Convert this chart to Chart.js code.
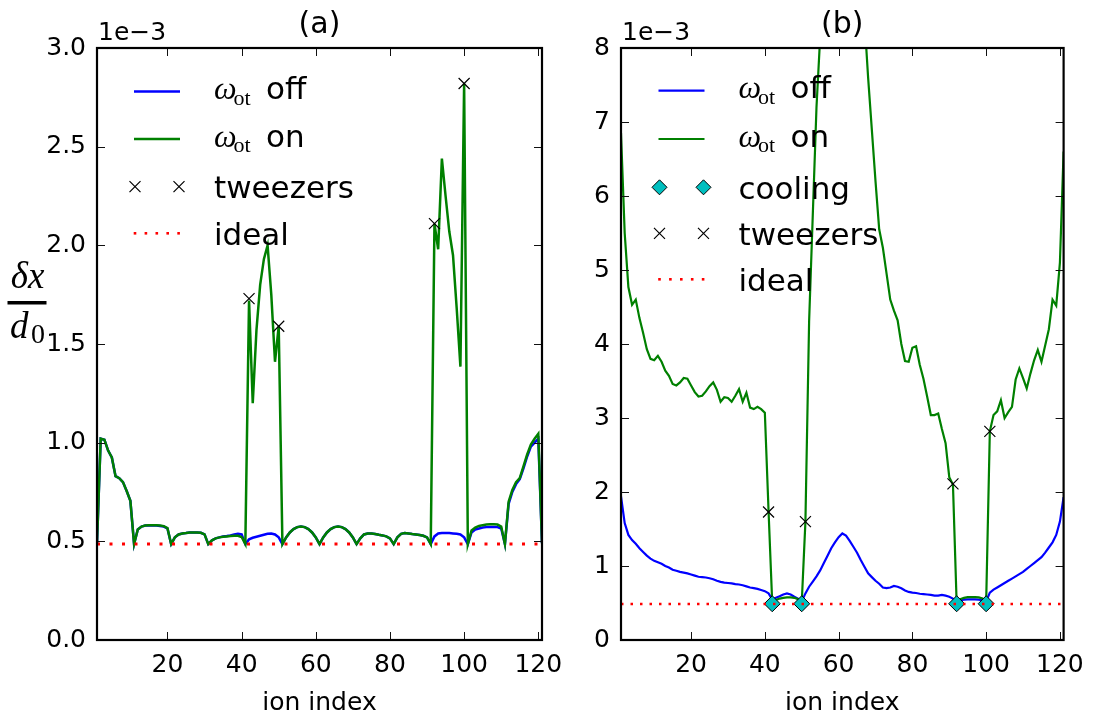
<!DOCTYPE html>
<html>
<head>
<meta charset="utf-8">
<title>ion displacement</title>
<script src="https://cdn.jsdelivr.net/npm/chart.js@4.4.0/dist/chart.umd.min.js"></script>
<style>
  html, body { margin: 0; padding: 0; background: #fff; }
  body { width: 1094px; height: 714px; position: relative; overflow: hidden; }
  canvas { position: absolute; top: 0; }
  #chartA { left: 0; }
  #chartB { left: 570px; }
</style>
</head>
<body>
<canvas id="chartA" width="590" height="714"></canvas>
<canvas id="chartB" width="524" height="714"></canvas>
<script>
// ion positions along the chain
const ionIndex = Array.from({ length: 121 }, (_, i) => i + 1);

// panel (a), values in units of 1e-3
const offA = [0.49, 1.02, 1.015, 0.96, 0.925, 0.83, 0.82, 0.8, 0.755, 0.705,
  0.486, 0.56, 0.575, 0.58, 0.58, 0.58, 0.58, 0.578, 0.575, 0.565,
  0.486, 0.52, 0.535, 0.54, 0.542, 0.545, 0.545, 0.545, 0.543, 0.535,
  0.486, 0.505, 0.515, 0.52, 0.525, 0.527, 0.53, 0.535, 0.538, 0.535,
  0.486, 0.51, 0.518, 0.523, 0.528, 0.533, 0.538, 0.54, 0.535, 0.52,
  0.486, 0.52, 0.545, 0.562, 0.572, 0.575, 0.572, 0.562, 0.545, 0.52,
  0.486, 0.52, 0.545, 0.562, 0.572, 0.575, 0.572, 0.562, 0.545, 0.52,
  0.486, 0.515, 0.535, 0.54, 0.54, 0.537, 0.533, 0.53, 0.525, 0.515,
  0.486, 0.52, 0.538, 0.542, 0.54, 0.537, 0.535, 0.532, 0.528, 0.52,
  0.486, 0.525, 0.54, 0.542, 0.542, 0.542, 0.54, 0.538, 0.535, 0.52,
  0.486, 0.545, 0.56, 0.565, 0.57, 0.572, 0.573, 0.573, 0.572, 0.565,
  0.486, 0.69, 0.75, 0.79, 0.815, 0.87, 0.93, 0.98, 1.0, 1.02,
  0.49];
const onA = [0.49, 1.02, 1.015, 0.96, 0.925, 0.83, 0.82, 0.8, 0.755, 0.705,
  0.486, 0.56, 0.575, 0.58, 0.582, 0.582, 0.582, 0.58, 0.577, 0.567,
  0.486, 0.52, 0.535, 0.54, 0.542, 0.545, 0.545, 0.545, 0.543, 0.535,
  0.486, 0.505, 0.515, 0.52, 0.523, 0.525, 0.527, 0.528, 0.528, 0.522,
  0.486, 1.72, 1.2, 1.57, 1.8, 1.93, 2.0, 1.75, 1.41, 1.59,
  0.486, 0.52, 0.545, 0.562, 0.572, 0.575, 0.572, 0.562, 0.545, 0.52,
  0.486, 0.52, 0.545, 0.562, 0.572, 0.575, 0.572, 0.562, 0.545, 0.52,
  0.486, 0.515, 0.535, 0.54, 0.54, 0.537, 0.533, 0.53, 0.525, 0.515,
  0.486, 0.52, 0.538, 0.542, 0.54, 0.537, 0.535, 0.532, 0.528, 0.52,
  0.486, 2.11, 1.98, 2.44, 2.25, 2.07, 1.95, 1.68, 1.385, 2.82,
  0.486, 0.555, 0.57, 0.578, 0.582, 0.585, 0.586, 0.586, 0.585, 0.575,
  0.486, 0.7, 0.76, 0.8, 0.82, 0.88, 0.94, 0.99, 1.02, 1.045,
  0.49];
const tweezIonsA = [42, 50, 92, 100];
const tweezValsA = [1.73, 1.59, 2.11, 2.82];

// panel (b)
const offB = [1.94, 1.58, 1.42, 1.35, 1.3, 1.24, 1.19, 1.14, 1.1, 1.07,
  1.05, 1.03, 1.0, 0.98, 0.95, 0.935, 0.92, 0.91, 0.9, 0.885,
  0.87, 0.855, 0.85, 0.845, 0.835, 0.82, 0.8, 0.785, 0.775, 0.77,
  0.765, 0.755, 0.75, 0.74, 0.725, 0.71, 0.7, 0.69, 0.675, 0.66,
  0.63, 0.55, 0.57, 0.59, 0.615, 0.63, 0.615, 0.585, 0.56, 0.52,
  0.63, 0.72, 0.79, 0.86, 0.94, 1.04, 1.14, 1.24, 1.32, 1.39,
  1.44, 1.41, 1.34, 1.26, 1.18, 1.08, 0.99, 0.9, 0.85, 0.8,
  0.76, 0.71, 0.7, 0.71, 0.73, 0.72, 0.7, 0.67, 0.65, 0.64,
  0.635, 0.625, 0.62, 0.615, 0.61, 0.6, 0.6, 0.61, 0.6, 0.585,
  0.56, 0.52, 0.54, 0.545, 0.55, 0.55, 0.55, 0.545, 0.54, 0.52,
  0.64, 0.68, 0.71, 0.74, 0.77, 0.8, 0.83, 0.86, 0.89, 0.92,
  0.96, 1.0, 1.04, 1.08, 1.12, 1.18, 1.25, 1.32, 1.42, 1.6,
  1.93];
const onB = [6.85, 5.5, 4.77, 4.53, 4.6, 4.35, 4.15, 3.93, 3.8, 3.78,
  3.84, 3.76, 3.64, 3.57, 3.46, 3.44, 3.48, 3.54, 3.53, 3.44,
  3.35, 3.29, 3.3, 3.36, 3.43, 3.48, 3.38, 3.22, 3.28, 3.27,
  3.22, 3.3, 3.39, 3.22, 3.34, 3.14, 3.12, 3.15, 3.12, 3.07,
  1.75, 0.5, 0.54, 0.56, 0.57, 0.575, 0.575, 0.57, 0.55, 0.5,
  1.6, 4.3, 5.75, 7.2, 8.15, 9.5, 11.0, 12.2, 13.0, 13.4,
  13.5, 13.1, 12.3, 11.3, 10.2, 9.2, 8.4, 7.6, 6.9, 6.2,
  5.55, 5.3, 4.95, 4.6, 4.45, 4.32, 4.0, 3.77, 3.76, 3.95,
  3.97, 3.72, 3.53, 3.29, 3.04, 3.04, 3.06, 2.85, 2.66, 2.2,
  2.1, 0.5, 0.55, 0.57, 0.58, 0.58, 0.58, 0.575, 0.56, 0.5,
  2.82, 3.04, 3.09, 3.24, 3.0, 3.08, 3.15, 3.52, 3.67, 3.54,
  3.4, 3.6, 3.78, 3.92, 3.76, 3.98, 4.2, 4.6, 4.52, 5.1,
  6.6];
const coolIonsB = [42, 50, 92, 100];
const coolValsB = [0.49, 0.49, 0.49, 0.49];
const tweezIonsB = [41, 51, 91, 101];
const tweezValsB = [1.73, 1.6, 2.11, 2.82];

const idealVal = 0.486;

// ticks
const xTickValues = [20, 40, 60, 80, 100, 120];
const yTicksA = [0, 0.5, 1.0, 1.5, 2.0, 2.5, 3.0];
const yLabelsA = ['0.0', '0.5', '1.0', '1.5', '2.0', '2.5', '3.0'];
const yTicksB = [0, 1, 2, 3, 4, 5, 6, 7, 8];
const yLabelsB = ['0', '1', '2', '3', '4', '5', '6', '7', '8'];

const SANS = "'DejaVu Sans', sans-serif";
const SERIF = "'Liberation Serif', 'DejaVu Serif', serif";
const BLUE = '#0000ff', GREEN = '#008000', RED = '#ff0000', CYAN = '#00bfbf';

function pts(xs, ys) {
  return xs.map((x, i) => ({ x: x, y: ys[i] }));
}

// frame, inward ticks, titles, legend, y label
const decorPlugin = {
  id: 'decor',
  afterDraw(chart, args, o) {
    const ctx = chart.ctx;
    const a = chart.chartArea;
    const xs = chart.scales.x, ys = chart.scales.y;
    ctx.save();

    ctx.strokeStyle = '#111';
    ctx.lineWidth = 1;
    ctx.beginPath();
    xs.ticks.forEach(t => {
      const p = Math.round(xs.getPixelForValue(t.value)) + 0.5;
      ctx.moveTo(p, a.bottom); ctx.lineTo(p, a.bottom - 8);
      ctx.moveTo(p, a.top); ctx.lineTo(p, a.top + 8);
    });
    ys.ticks.forEach(t => {
      const p = Math.round(ys.getPixelForValue(t.value)) + 0.5;
      ctx.moveTo(a.left, p); ctx.lineTo(a.left + 8, p);
      ctx.moveTo(a.right, p); ctx.lineTo(a.right - 8, p);
    });
    ctx.stroke();

    ctx.strokeStyle = '#000';
    ctx.lineWidth = 2.2;
    ctx.strokeRect(a.left, a.top, a.right - a.left, a.bottom - a.top);

    ctx.fillStyle = '#000';
    ctx.textBaseline = 'alphabetic';
    ctx.textAlign = 'center';
    ctx.font = '30px ' + SANS;
    ctx.fillText(o.title, (a.left + a.right) / 2, 33);
    ctx.textAlign = 'left';
    ctx.font = '25px ' + SANS;
    ctx.fillText('1e\u22123', a.left + 1, 40);

    // legend
    const L = o.legend;
    const x0 = a.left + L.dx, x1 = x0 + 46;
    L.rows.forEach((e, i) => {
      const y = L.rowY[i];
      ctx.save();
      if (e.kind === 'line') {
        ctx.strokeStyle = e.color; ctx.lineWidth = L.lw;
        ctx.beginPath(); ctx.moveTo(x0, y); ctx.lineTo(x1, y); ctx.stroke();
      } else if (e.kind === 'dots') {
        ctx.fillStyle = e.color;
        for (let k = 0; k < 5; k++) ctx.fillRect(x0 + 1 + k * 10.9 - 1.3, y - 1.3, 2.6, 2.6);
      } else if (e.kind === 'cross') {
        ctx.strokeStyle = '#000'; ctx.lineWidth = 1.2;
        ctx.beginPath();
        [x0 + 1, x1 - 1].forEach(cx => {
          ctx.moveTo(cx - 5.5, y - 5.5); ctx.lineTo(cx + 5.5, y + 5.5);
          ctx.moveTo(cx - 5.5, y + 5.5); ctx.lineTo(cx + 5.5, y - 5.5);
        });
        ctx.stroke();
      } else if (e.kind === 'diamond') {
        ctx.fillStyle = CYAN; ctx.strokeStyle = '#000'; ctx.lineWidth = 1;
        [x0 + 1, x1 - 1].forEach(cx => {
          ctx.beginPath();
          ctx.moveTo(cx, y - 7.5); ctx.lineTo(cx + 7.5, y); ctx.lineTo(cx, y + 7.5); ctx.lineTo(cx - 7.5, y);
          ctx.closePath(); ctx.fill(); ctx.stroke();
        });
      }
      ctx.restore();

      const tx = x0 + 80;
      ctx.fillStyle = '#000';
      ctx.textAlign = 'left';
      if (e.word) {
        const base = y + 7.6;
        ctx.font = 'italic 32px ' + SERIF;
        ctx.fillText('\u03c9', tx, base);
        ctx.font = '22px ' + SERIF;
        ctx.fillText('ot', tx + 19.5, base + 5.5);
        ctx.font = '31px ' + SANS;
        ctx.fillText(e.word, tx + 52, base);
      } else {
        ctx.font = '31px ' + SANS;
        ctx.fillText(e.text, tx, y + 11.6);
      }
    });

    // y axis label, a fraction
    if (o.ylabel) {
      ctx.fillStyle = '#000';
      ctx.textAlign = 'center';
      ctx.font = 'italic 37px ' + SERIF;
      ctx.fillText('\u03b4x', 27.5, 287.5);
      ctx.fillRect(7.5, 301, 39, 3.5);
      ctx.textAlign = 'left';
      ctx.fillText('d', 10, 338);
      ctx.font = '28px ' + SERIF;
      ctx.fillText('0', 31, 343);
    }
    ctx.restore();
  }
};

function lineSet(label, ys, color, lw, order) {
  return {
    label: label, data: pts(ionIndex, ys), borderColor: color, borderWidth: lw,
    pointRadius: 0, tension: 0, fill: false, clip: 0, order: order
  };
}

function idealSet(dash, lw) {
  return {
    label: 'ideal', data: pts([1, 121], [idealVal, idealVal]), borderColor: RED,
    borderWidth: lw, borderDash: dash, borderCapStyle: 'butt', pointRadius: 0,
    fill: false, clip: 0, order: 0
  };
}

function markerSet(label, xs, ys, style, radius, fillColor, order) {
  return {
    label: label, data: pts(xs, ys), showLine: false, pointStyle: style,
    pointRadius: radius, pointBorderColor: '#000', pointBackgroundColor: fillColor,
    pointBorderWidth: style === 'crossRot' ? 1.2 : 1, borderColor: '#000',
    backgroundColor: fillColor, order: order
  };
}

function makeChart(id, c) {
  return new Chart(document.getElementById(id), {
    type: 'line',
    data: { datasets: c.datasets },
    options: {
      responsive: false,
      animation: false,
      devicePixelRatio: 1,
      layout: { padding: { top: 48, right: c.padRight, left: 0, bottom: 0 } },
      plugins: { legend: { display: false }, tooltip: { enabled: false }, decor: c.decor },
      scales: {
        x: {
          type: 'linear', min: 1, max: 121, bounds: 'data',
          afterBuildTicks: s => { s.ticks = xTickValues.map(v => ({ value: v })); },
          afterFit: s => { s.height = 74; },
          grid: { display: false, drawTicks: false },
          border: { display: false },
          ticks: {
            padding: 10, color: '#000', maxRotation: 0, autoSkip: false,
            font: { family: SANS, size: 25, lineHeight: 1.2 },
            callback: v => String(v)
          },
          title: {
            display: true, text: 'ion index', color: '#000', padding: 0,
            font: { family: SANS, size: 25, lineHeight: 0.88 }
          }
        },
        y: {
          type: 'linear', min: 0, max: c.yMax, bounds: 'data',
          afterBuildTicks: s => { s.ticks = c.yTicks.map(v => ({ value: v })); },
          afterFit: s => { s.width = c.yWidth; },
          grid: { display: false, drawTicks: false },
          border: { display: false },
          ticks: {
            padding: 11, color: '#000', autoSkip: false,
            font: { family: SANS, size: 25, lineHeight: 1.2 },
            callback: (v, i) => c.yLabels[i]
          }
        }
      }
    },
    plugins: [decorPlugin]
  });
}

makeChart('chartA', {
  padRight: 48, yWidth: 97, yMax: 3, yTicks: yTicksA, yLabels: yLabelsA,
  datasets: [
    lineSet('\u03c9ot off', offA, BLUE, 2.5, 4),
    lineSet('\u03c9ot on', onA, GREEN, 2.5, 3),
    markerSet('tweezers', tweezIonsA, tweezValsA, 'crossRot', 7.8, '#000', 1),
    idealSet([3, 9.5], 3)
  ],
  decor: {
    title: '(a)', ylabel: true,
    legend: {
      dx: 37, lw: 2.6, rowY: [91.5, 139, 186.7, 233.3],
      rows: [
        { kind: 'line', color: BLUE, word: 'off' },
        { kind: 'line', color: GREEN, word: 'on' },
        { kind: 'cross', text: 'tweezers' },
        { kind: 'dots', color: RED, text: 'ideal' }
      ]
    }
  }
});

makeChart('chartB', {
  padRight: 27, yWidth: 51, yMax: 8, yTicks: yTicksB, yLabels: yLabelsB,
  datasets: [
    lineSet('\u03c9ot off', offB, BLUE, 2.2, 4),
    lineSet('\u03c9ot on', onB, GREEN, 2.2, 3),
    markerSet('cooling', coolIonsB, coolValsB, 'rectRot', 8, CYAN, 2),
    markerSet('tweezers', tweezIonsB, tweezValsB, 'crossRot', 7.8, '#000', 1),
    idealSet([2.5, 7], 2.5)
  ],
  decor: {
    title: '(b)', ylabel: false,
    legend: {
      dx: 37.5, lw: 2.2, rowY: [90.7, 139, 187.3, 233.3, 279.3],
      rows: [
        { kind: 'line', color: BLUE, word: 'off' },
        { kind: 'line', color: GREEN, word: 'on' },
        { kind: 'diamond', text: 'cooling' },
        { kind: 'cross', text: 'tweezers' },
        { kind: 'dots', color: RED, text: 'ideal' }
      ]
    }
  }
});
</script>
</body>
</html>
